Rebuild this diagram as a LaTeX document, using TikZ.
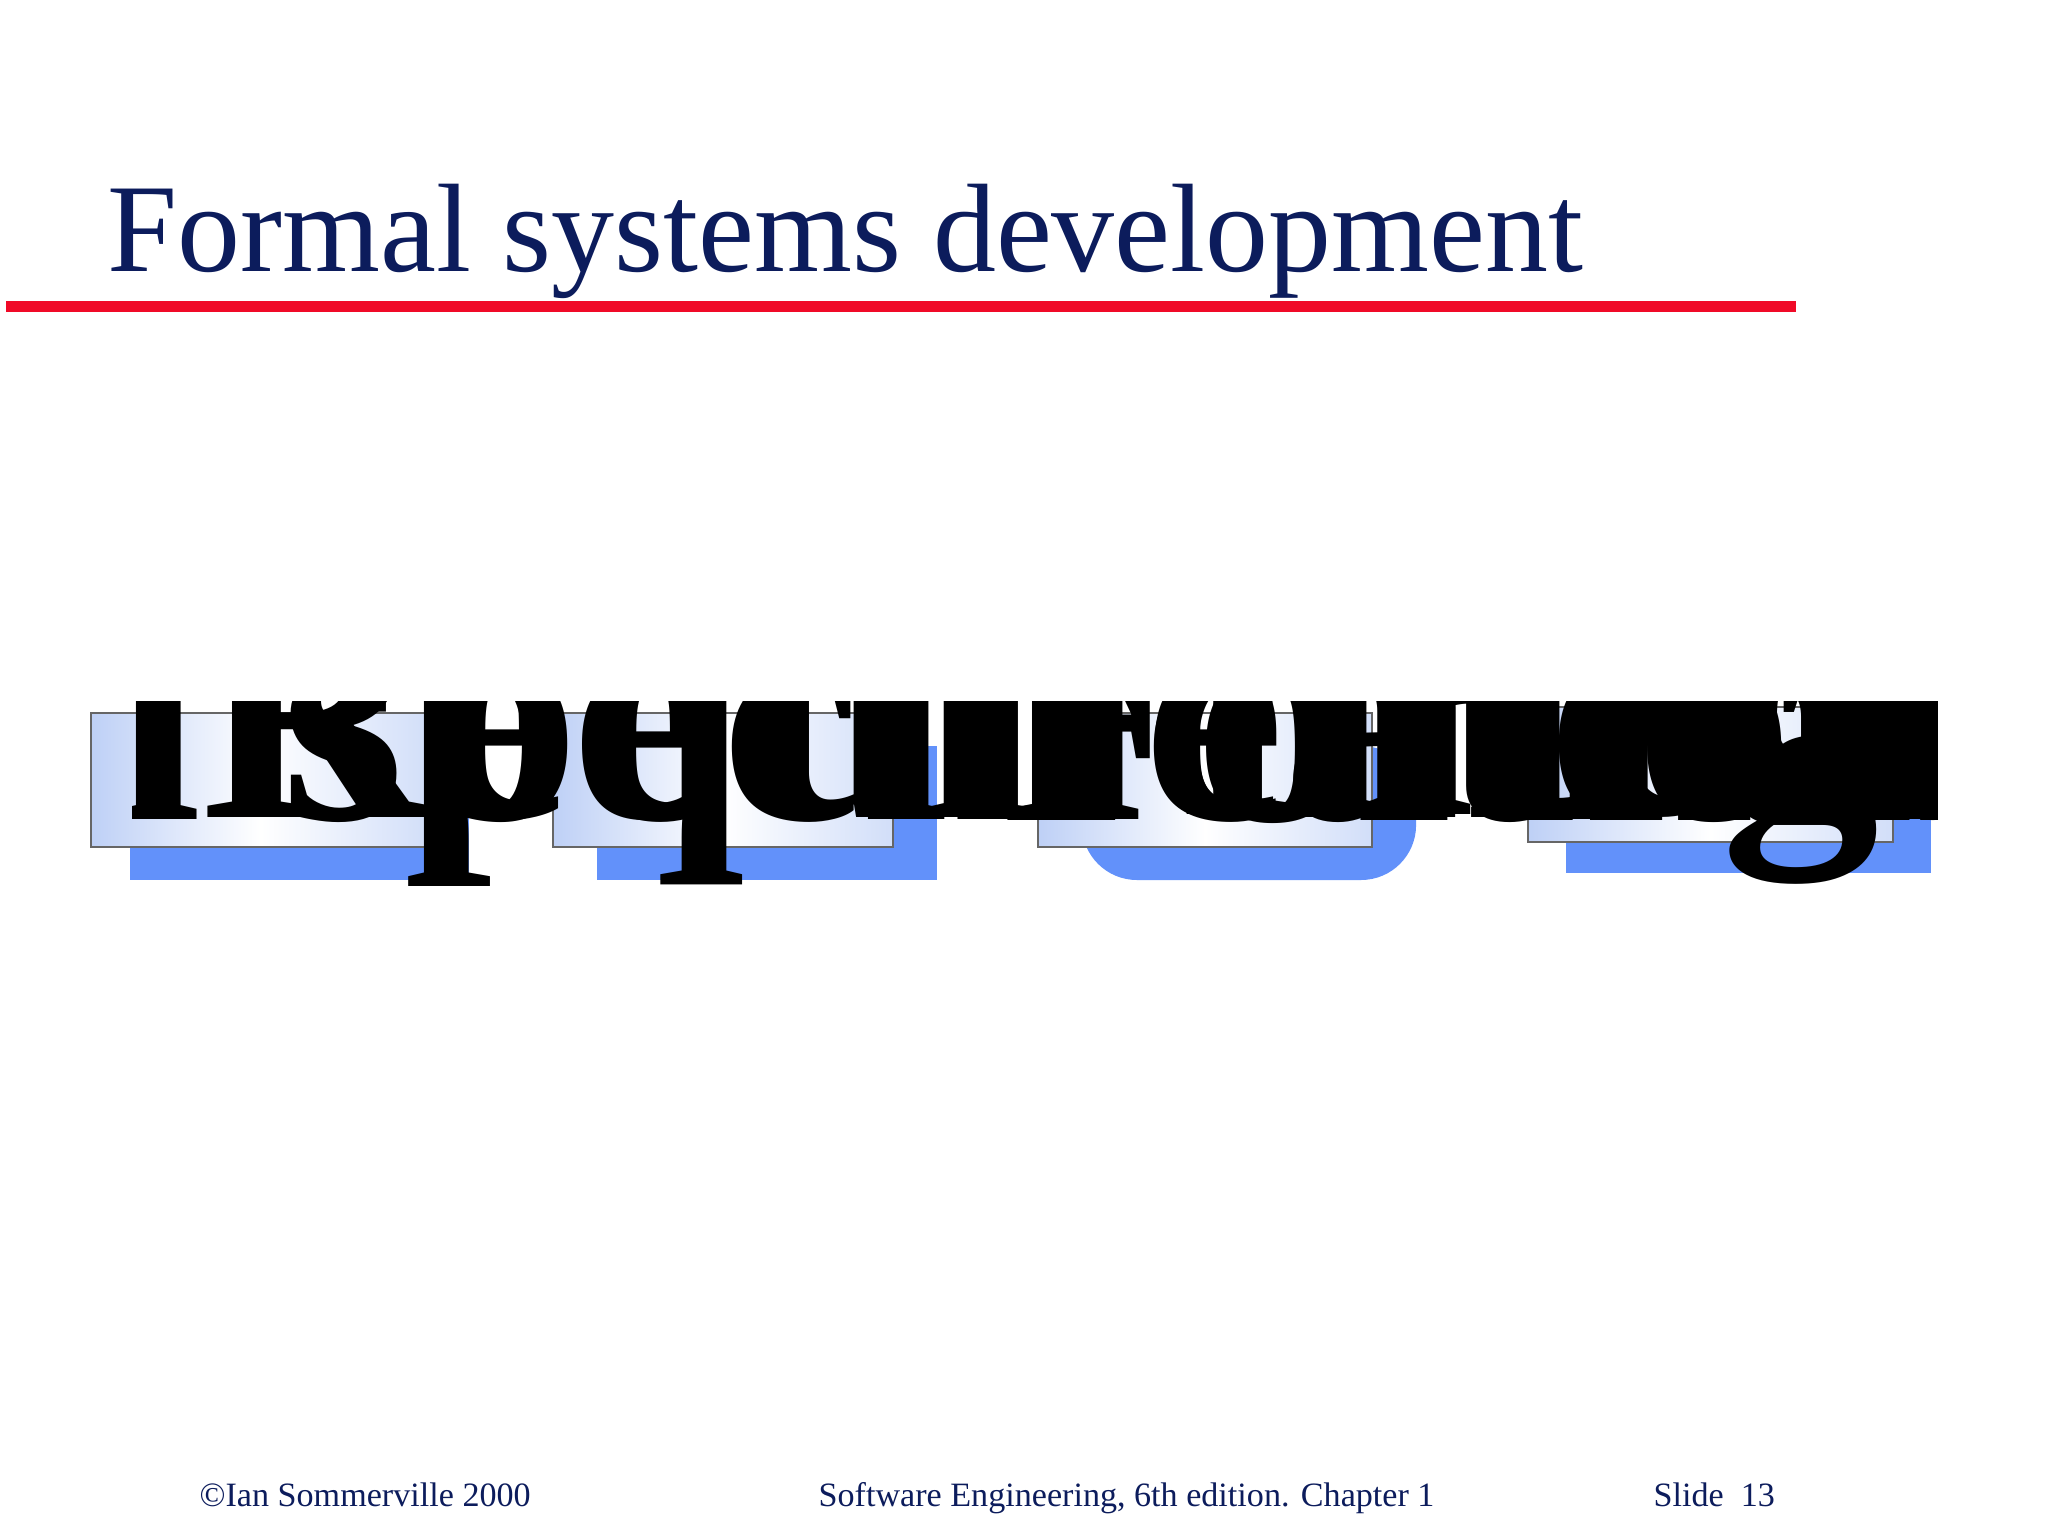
\documentclass[tikz,border=0pt]{standalone}
\usepackage{fontspec}
\setmainfont{Liberation Serif}
\usepackage{xcolor}
\usetikzlibrary{shapes,positioning,calc,backgrounds}

\definecolor{titleblue}{RGB}{12,28,92}
\definecolor{rulered}{RGB}{240,10,40}
\definecolor{boxblue}{RGB}{190,208,246}
\definecolor{shadowblue}{RGB}{98,145,250}

\tikzset{
  stagebox/.style={rectangle, draw=gray!80!black, line width=0.4pt, left color=boxblue, right color=boxblue!70, middle color=white, minimum height=1.34cm, inner sep=0pt},
  stageshadow/.style={rectangle, fill=shadowblue, draw=none, minimum height=1.34cm, inner sep=0pt},
  hugelabel/.style={font=\fontsize{90}{100}\selectfont\bfseries, text=black, inner sep=0pt, anchor=base west},
  footer/.style={font=\fontsize{9.7}{11}\selectfont, text=titleblue, inner sep=0pt, anchor=base west}
}

\begin{document}
\begin{tikzpicture}[x=0.01cm, y=0.01cm]
    \useasboundingbox (0,0) rectangle (2048,1537);

    % Title
    \node[anchor=base west, inner sep=0pt, font=\fontsize{35.8}{40}\selectfont, text=titleblue] (title) at (107,1265) {Formal systems development};
    \draw[rulered, line width=0.11cm] (6,1230) -- (1796,1230);

    % Process stages
    \node[stagebox, minimum width=3.39cm] (req) at (260.5,757) {};
    \node[stagebox, minimum width=3.40cm] (spec) at (723,757) {};
    \node[stagebox, minimum width=3.34cm] (trans) at (1205,757) {};
    \node[stagebox, minimum width=3.65cm, minimum height=1.35cm] (integ) at (1710.5,762.5) {};

    % Shadows
    \begin{scope}[on background layer]
    \node[stageshadow, minimum width=3.39cm] (reqsh) at ($(req.center)+(39,-33)$) {};
    \node[stageshadow, minimum width=3.40cm] (specsh) at ($(spec.center)+(44,-33)$) {};
    \node[stageshadow, minimum width=3.34cm, rounded corners=0.55cm] (transsh) at ($(trans.center)+(44,-33)$) {};
    \node[stageshadow, minimum width=3.65cm, minimum height=1.35cm] (integsh) at ($(integ.center)+(38,-31)$) {};
    \end{scope}

    % Stage labels
    \begin{scope}
    \clip (132,651) rectangle (1937,835);
    \node[hugelabel] (reqtxt) at (200,719) {Requirements definition};
    \node[hugelabel] (spectxt) at (-800,717) {Formal specification};
    \node[hugelabel] (transtxt) at (1000,716) {Formal transformation};
    \node[hugelabel] (integtxt) at (1176,722) {Integration and system testing};
    \end{scope}

    % Footer
    \node[footer] (copy) at (199,30) {\textcopyright Ian Sommerville 2000};
    \node[footer] (book) at (818,30) {Software Engineering, 6th edition. Chapter 1};
    \node[footer] (slide) at (1653,30) {Slide\ \ 13};
\end{tikzpicture}
\end{document}
